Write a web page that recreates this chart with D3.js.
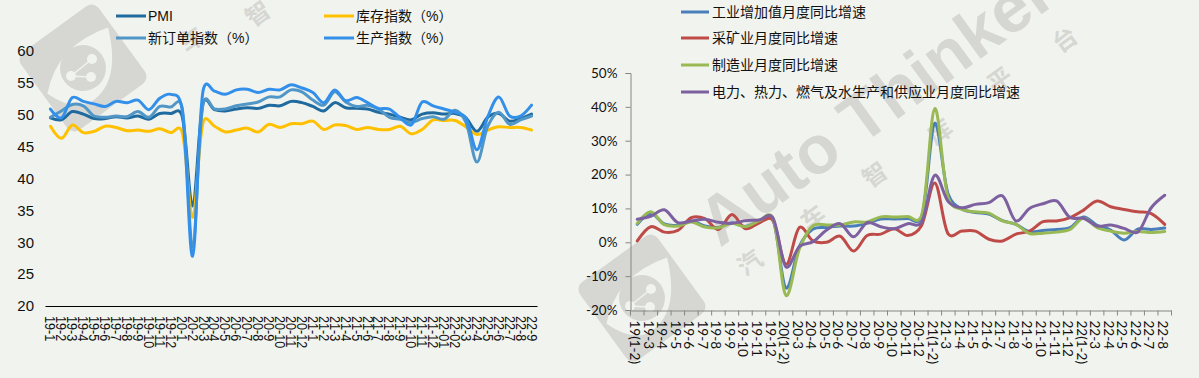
<!DOCTYPE html>
<html>
<head>
<meta charset="utf-8">
<script src="https://cdn.jsdelivr.net/npm/d3@7"></script>
<style>
html, body { margin: 0; padding: 0; background: #f1f3ee; overflow: hidden; }
svg { display: block; }
</style>
</head>
<body>
<svg id="chart" width="1199" height="378"></svg>
<script>
// left chart data
const pmiMonths = [
  "19-1","19-2","19-3","19-4","19-5","19-6","19-7","19-8","19-9","19-10","19-11","19-12",
  "20-1","20-2","20-3","20-4","20-5","20-6","20-7","20-8","20-9","20-10","20-11","20-12",
  "21-1","21-2","21-3","21-4","21-5","21-6","21-7","21-8","21-9","21-10","21-11","21-12",
  "22-01","22-02","22-3","22-4","22-5","22-6","22-7","22-8","22-9"]
const pmi = [49.5,49.2,50.5,50.1,49.4,49.4,49.7,49.5,49.8,49.3,50.2,50.2,
  50.0,35.7,52.0,50.8,50.6,50.9,51.1,51.0,51.5,51.4,52.1,51.9,
  51.3,50.6,51.9,51.1,51.0,50.9,50.4,50.1,49.6,49.2,50.1,50.3,
  50.1,50.2,49.5,47.4,49.6,50.2,49.0,49.4,50.1]
const newOrders = [49.6,50.6,51.6,51.4,49.8,49.6,49.8,49.7,50.5,49.6,51.3,51.2,
  51.4,29.3,52.0,50.9,50.9,51.4,51.7,52.0,52.8,52.8,53.9,53.6,
  52.3,51.5,53.6,52.0,51.3,51.5,50.9,49.6,49.3,48.8,49.4,49.7,
  49.3,50.7,48.8,42.6,48.2,50.4,48.5,49.2,49.8]
const inventory = [48.2,46.3,48.4,47.2,47.4,48.2,48.0,47.5,47.6,47.4,47.8,47.2,
  47.5,33.9,49.0,48.2,47.3,47.6,47.9,47.3,48.5,48.0,48.6,48.6,
  49.0,47.7,48.4,48.3,47.7,48.0,47.7,47.7,48.2,47.0,47.7,49.2,
  49.1,49.1,48.1,46.9,47.6,48.1,48.0,48.0,47.6]
const production = [50.9,49.5,52.7,52.1,51.7,51.3,52.1,51.9,52.3,50.8,52.6,53.2,
  51.3,27.8,54.1,53.7,53.2,53.9,54.0,53.5,54.0,53.9,54.7,54.2,
  53.5,51.9,53.9,52.2,52.7,51.9,51.0,50.9,49.5,48.4,52.0,51.4,
  50.9,50.4,49.5,44.5,49.7,52.8,49.8,49.8,51.5]
const pmiTicks = [20,25,30,35,40,45,50,55,60]

// right chart data
const ipMonths = [
  "19(1-2)","19-3","19-4","19-5","19-6","19-7","19-8","19-9","19-10","19-11","19-12",
  "20(1-2)","20-3","20-4","20-5","20-6","20-7","20-8","20-9","20-10","20-11","20-12",
  "21(1-2)","21-3","21-4","21-5","21-6","21-7","21-8","21-9","21-10","21-11","21-12",
  "22(1-2)","22-3","22-4","22-5","22-6","22-7","22-8"]
const industry = [5.3,8.5,5.4,5.0,6.3,4.8,4.4,5.8,4.7,6.2,6.9,
  -13.5,-1.1,3.9,4.4,4.8,4.8,5.6,6.9,6.9,7.0,7.3,
  35.1,14.1,9.8,8.8,8.3,6.4,5.3,3.1,3.5,3.8,4.3,
  7.5,5.0,3.6,0.7,3.9,3.8,4.2]
const mining = [0.4,4.6,3.0,3.5,7.3,7.0,3.8,8.2,4.0,5.7,6.6,
  -6.5,4.4,0.4,0.0,1.8,-2.6,2.0,2.4,4.0,2.0,4.8,
  17.5,2.4,3.3,3.3,0.9,0.4,2.4,3.3,6.1,6.3,7.3,
  9.5,12.2,10.5,9.7,9.0,8.5,5.3]
const manufacturing = [5.6,9.0,5.2,4.8,6.0,4.5,4.3,5.6,4.6,6.3,7.4,
  -15.7,-1.8,4.9,5.1,5.1,6.0,6.0,7.5,7.5,7.6,7.7,
  39.5,13.0,9.7,9.0,8.6,6.3,5.3,2.6,2.7,3.0,3.8,
  7.1,4.3,3.3,2.7,3.2,2.9,3.2]
const utilities = [6.8,7.7,9.6,5.8,6.3,6.8,5.9,5.6,6.4,6.6,7.4,
  -7.3,-1.2,0.2,3.6,5.5,1.6,5.8,4.6,4.0,5.5,5.8,
  19.8,12.0,10.2,11.2,11.7,13.7,6.3,10.0,11.4,12.2,7.3,
  7.1,4.8,5.1,4.1,3.0,10.2,13.9]
const ipTicks = [-20,-10,0,10,20,30,40,50]

const leftSeries = [
  { name: "PMI", values: pmi, color: "#1f6a9f", lx: 116, ly: 16 },
  { name: "库存指数（%）", values: inventory, color: "#ffc000", lx: 324, ly: 16 },
  { name: "新订单指数（%）", values: newOrders, color: "#5096c6", lx: 116, ly: 38 },
  { name: "生产指数（%）", values: production, color: "#3390ea", lx: 324, ly: 38 }
]
const rightSeries = [
  { name: "工业增加值月度同比增速", values: industry, color: "#4a7ebb", lx: 681, ly: 12 },
  { name: "采矿业月度同比增速", values: mining, color: "#be4b48", lx: 681, ly: 38 },
  { name: "制造业月度同比增速", values: manufacturing, color: "#98b954", lx: 681, ly: 65 },
  { name: "电力、热力、燃气及水生产和供应业月度同比增速", values: utilities, color: "#7d60a0", lx: 681, ly: 92 }
]

const svg = d3.select("#chart")
const WM = "#d6d7d3"
const cjk = "'Liberation Sans', 'Noto Sans CJK SC', sans-serif"

// watermark
function logo(cx, cy) {
  let g = svg.append("g").attr("transform", `translate(${cx},${cy}) rotate(-36)`)
  g.append("rect").attr("x", -48).attr("y", -48).attr("width", 96).attr("height", 96).attr("rx", 9).attr("fill", WM)
  g.append("path").attr("d", "M-44,0 Q-8,-34 44,-18 Q22,36 -16,32 Q-34,28 -44,0Z").attr("fill", "#f1f3ee")
  g.append("circle").attr("r", 23).attr("fill", WM)
  let n = g.append("g").attr("transform", "rotate(36)")
  let nodes = [[9, -9], [-12, 8], [8, 9]]
  n.append("path").attr("d", d3.line()(nodes)).attr("fill", "none").attr("stroke", "#f1f3ee").attr("stroke-width", 1.5)
  n.selectAll("circle").data(nodes).join("circle")
    .attr("cx", d => d[0]).attr("cy", d => d[1]).attr("r", 5).attr("fill", "#f1f3ee")
}
logo(83, 68)
logo(642, 298)
svg.append("text")
  .attr("transform", "translate(720,248) rotate(-36)")
  .attr("font-family", "'Liberation Sans', sans-serif").attr("font-weight", "bold")
  .attr("font-size", 68).attr("fill", WM).text("Auto Thinker")
const wmChars = [["汽", 750, 263], ["车", 813, 218], ["智", 875, 175], ["库", 940, 132], ["平", 1000, 80], ["台", 1065, 40], ["车", 192, 40], ["智", 258, 14]]
svg.append("g").selectAll("text").data(wmChars).join("text")
  .attr("transform", d => `translate(${d[1]},${d[2]}) rotate(-36)`)
  .attr("text-anchor", "middle").attr("dy", "0.35em")
  .attr("font-family", cjk).attr("font-weight", "bold").attr("font-size", 24).attr("fill", WM)
  .text(d => d[0])

function legend(series, textDx, width) {
  series.forEach(s => {
    svg.append("line").attr("x1", s.lx).attr("x2", s.lx + width).attr("y1", s.ly).attr("y2", s.ly)
      .attr("stroke", s.color).attr("stroke-width", 3)
    svg.append("text").attr("x", s.lx + width + textDx).attr("y", s.ly).attr("dy", "0.36em")
      .attr("font-family", cjk).attr("font-size", 14).attr("fill", "#111").text(s.name)
  })
}

function lines(series, x, y, width) {
  const line = d3.line()
    .x((d, i) => x(i) + x.bandwidth() / 2)
    .y(d => y(d))
    .curve(d3.curveCatmullRom.alpha(0.2))
  svg.append("g").selectAll("path").data(series).join("path")
    .attr("d", d => line(d.values))
    .attr("fill", "none")
    .attr("stroke", d => d.color)
    .attr("stroke-width", width)
    .attr("stroke-linejoin", "round")
    .attr("stroke-linecap", "round")
}

// left chart
{
  const x = d3.scaleBand().domain(d3.range(pmiMonths.length)).range([45, 537])
  const y = d3.scaleLinear().domain([20, 60]).range([306, 51])
  lines(leftSeries, x, y, 3)
  const yAxis = svg.append("g").attr("transform", "translate(34,0)")
    .call(d3.axisLeft(y).tickValues(pmiTicks).tickSize(0).tickPadding(0))
  yAxis.select(".domain").remove()
  yAxis.selectAll("text").attr("font-family", "'Liberation Sans', sans-serif").attr("font-size", 15).attr("fill", "#111")
  const xAxis = svg.append("g").attr("transform", "translate(0,306)")
    .call(d3.axisBottom(x).tickFormat(i => pmiMonths[i]).tickSize(0))
  xAxis.select(".domain").attr("stroke", "#000").attr("stroke-width", 1.2)
  xAxis.selectAll("text")
    .attr("font-family", "'Liberation Sans', sans-serif").attr("font-size", 14).attr("fill", "#111")
    .attr("text-anchor", "start").attr("dy", 0)
    .attr("transform", "translate(-5,10) rotate(90) scale(0.9,1)")
    .attr("y", 0).attr("x", 0)
  legend(leftSeries, 2, 30)
}

// right chart
{
  const x = d3.scaleBand().domain(d3.range(ipMonths.length)).range([630.5, 1171.5])
  const y = d3.scaleLinear().domain([-20, 50]).range([310, 73])
  lines(rightSeries, x, y, 3)
  const yAxis = svg.append("g").attr("transform", "translate(630.5,0)")
    .call(d3.axisLeft(y).tickValues(ipTicks).tickSize(5).tickPadding(8).tickFormat(d => d + "%"))
  yAxis.select(".domain").attr("stroke", "#868686")
  yAxis.selectAll("line").attr("stroke", "#868686")
  yAxis.selectAll("text").attr("font-family", "Lato, sans-serif").attr("font-size", 13.5).attr("fill", "#111")
  const xAxis = svg.append("g").attr("transform", "translate(0,310.5)")
    .call(d3.axisBottom(x).tickFormat(i => ipMonths[i]).tickSize(0))
  xAxis.select(".domain").attr("stroke", "#868686")
  xAxis.selectAll("text")
    .attr("font-family", "Lato, sans-serif").attr("font-size", 13.5).attr("fill", "#111")
    .attr("text-anchor", "start").attr("dy", 0).attr("y", 0).attr("x", 0)
    .attr("transform", "translate(-7,10) rotate(90)")
  // ticks sit on band edges, not centres
  xAxis.append("g").selectAll("line").data(d3.range(ipMonths.length + 1)).join("line")
    .attr("x1", i => x.range()[0] + i * x.step()).attr("x2", i => x.range()[0] + i * x.step())
    .attr("y1", 0).attr("y2", 5).attr("stroke", "#868686")
  legend(rightSeries, 3, 28)
}
</script>
</body>
</html>
